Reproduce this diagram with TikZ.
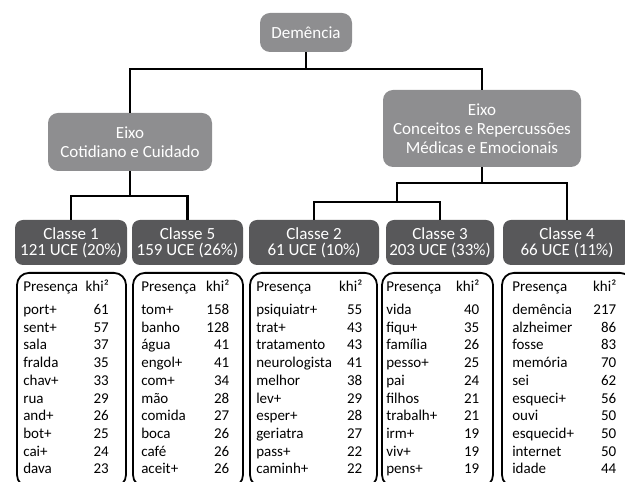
\documentclass[tikz,border=0pt]{standalone}
\usepackage{fontspec}
\setmainfont{Carlito}
\usetikzlibrary{positioning}
\definecolor{cinzaclaro}{HTML}{8E8E90}
\definecolor{cinzaescuro}{HTML}{58585A}
\newcommand{\tabela}[2]{\begin{tabular*}{#1}{@{}l@{\extracolsep{\fill}}r@{}}Presença & khi²\\[5.3pt] #2\end{tabular*}}

\begin{document}
\begin{tikzpicture}[x=1pt,y=1pt,
                eixo/.style = {fill=cinzaclaro, text=white, rounded corners=10pt, align=center, inner sep=0pt, font=\fontsize{17}{19}\selectfont},
                classe/.style = {fill=cinzaescuro, text=white, rounded corners=8pt, align=center, inner sep=0pt, minimum height=45pt, font=\fontsize{17}{16}\selectfont},
                lista/.style = {draw=black, line width=1.8pt, rounded corners=12pt, minimum height=214pt, inner sep=0pt},
                itens/.style = {inner sep=0pt, font=\fontsize{15}{17.7}\selectfont},
                conector/.style = {line width=2.3pt, black}]
                \useasboundingbox (0,0) rectangle (625,482);
                \clip (0,0) rectangle (625,482);
                % eixos
                \node[eixo, minimum width=92pt, minimum height=39pt] (dem) at (306,449.5) {Demência};
                \node[eixo, minimum width=164pt, minimum height=58pt] (ex1) at (130,340) {Eixo\\Cotidiano e Cuidado};
                \node[eixo, minimum width=198pt, minimum height=77pt] (ex2) at (482,353.5) {Eixo\\Conceitos e Repercussões\\Médicas e Emocionais};
                % classes
                \node[classe, minimum width=112pt] (c1) at (71,239.5) {Classe 1\\121 UCE (20\%)};
                \node[classe, minimum width=111pt] (c5) at (187.5,239.5) {Classe 5\\159 UCE (26\%)};
                \node[classe, minimum width=130pt] (c2) at (314,239.5) {Classe 2\\61 UCE (10\%)};
                \node[classe, minimum width=108pt] (c3) at (440,239.5) {Classe 3\\203 UCE (33\%)};
                \node[classe, minimum width=128pt] (c4) at (567,239.5) {Classe 4\\66 UCE (11\%)};
                % conectores
                \draw[conector] (dem.south) -- ++(0,-17) coordinate (j0);
                \draw[conector] (ex1.north) |- (j0) -| (ex2.north);
                \draw[conector] (ex1.south) -- ++(0,-25) coordinate (j1);
                \draw[conector] (c1.north) |- (j1) -| (c5.north);
                \draw[conector] (ex2.south) -- ++(0,-16) coordinate (j2);
                \draw[conector] (j2) -| (c4.north);
                \draw[conector] (j2) -| ++(-85,-19) coordinate (j3);
                \draw[conector] (c2.north) |- (j3) -| (c3.north);
                % listas
                \node[lista, minimum width=109pt, anchor=north] (t1) at (71.5,210) {};
                \node[lista, minimum width=110pt, anchor=north] (t5) at (188,210) {};
                \node[lista, minimum width=127pt, anchor=north] (t2) at (313.5,210) {};
                \node[lista, minimum width=111pt, anchor=north] (t3) at (437.5,210) {};
                \node[lista, minimum width=130pt, anchor=north] (t4) at (567,210) {};
                \node[itens, below right=7pt and 7pt of t1.north west] (l1) {\tabela{85.5pt}{port+ & 61\\ sent+ & 57\\ sala & 37\\ fralda & 35\\ chav+ & 33\\ rua & 29\\ and+ & 26\\ bot+ & 25\\ cai+ & 24\\ dava & 23}};
                \node[itens, below right=7pt and 9pt of t5.north west] (l5) {\tabela{88pt}{tom+ & 158\\ banho & 128\\ água & 41\\ engol+ & 41\\ com+ & 34\\ mão & 28\\ comida & 27\\ boca & 26\\ café & 26\\ aceit+ & 26}};
                \node[itens, below right=7pt and 7pt of t2.north west] (l2) {\tabela{106pt}{psiquiatr+ & 55\\ trat+ & 43\\ tratamento & 43\\ neurologista & 41\\ melhor & 38\\ lev+ & 29\\ esper+ & 28\\ geriatra & 27\\ pass+ & 22\\ caminh+ & 22}};
                \node[itens, below right=7pt and 5pt of t3.north west] (l3) {\tabela{93pt}{vida & 40\\ fiqu+ & 35\\ família & 26\\ pesso+ & 25\\ pai & 24\\ filhos & 21\\ trabalh+ & 21\\ irm+ & 19\\ viv+ & 19\\ pens+ & 19}};
                \node[itens, below right=7pt and 11pt of t4.north west] (l4) {\tabela{104pt}{demência & 217\\ alzheimer & 86\\ fosse & 83\\ memória & 70\\ sei & 62\\ esqueci+ & 56\\ ouvi & 50\\ esquecid+ & 50\\ internet & 50\\ idade & 44}};
\end{tikzpicture}
\end{document}
